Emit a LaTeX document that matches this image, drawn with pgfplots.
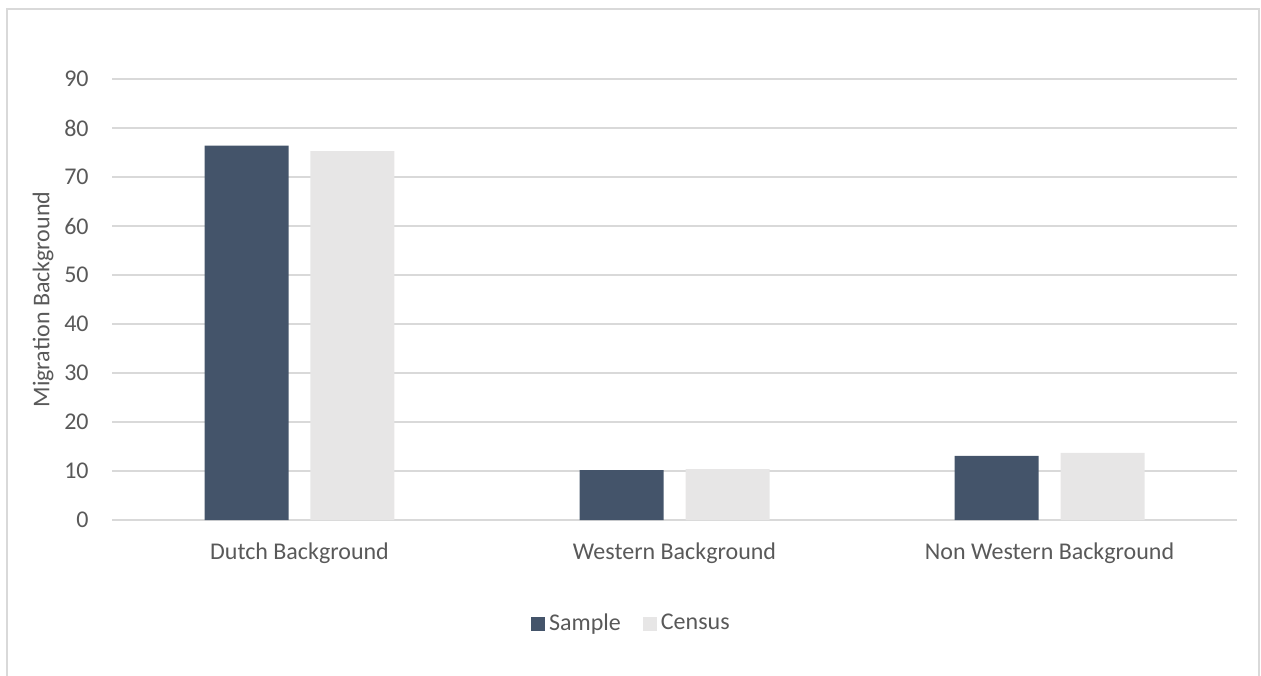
\documentclass[border=0pt]{standalone}
\usepackage{pgfplots}
\pgfplotsset{compat=1.18}
\usepackage{fontspec}
\setmainfont{Carlito}
\definecolor{sample}{HTML}{44546A}
\definecolor{census}{HTML}{E7E6E6}
\definecolor{gridc}{HTML}{D9D9D9}
\definecolor{txt}{HTML}{595959}
\begin{document}
\fontsize{12pt}{14pt}\selectfont
\begin{tikzpicture}
\useasboundingbox (0,0) rectangle (630.5pt,337.5pt);
\draw[gridc, line width=1pt] (3.5pt,-2pt) -- (3.5pt,333pt) -- (629.5pt,333pt) -- (629.5pt,-2pt);
\begin{axis}[
  at={(56pt,77.5pt)}, anchor=south west,
  scale only axis, width=562.5pt, height=220.5pt,
  xmin=-0.5, xmax=2.5, ymin=0, ymax=90,
  ytick={0,10,...,90},
  xtick={0,1,2},
  xticklabels={Dutch Background, Western Background, Non Western Background},
  ymajorgrids, grid style={gridc, line width=0.9pt},
  axis x line*=bottom, axis y line*=left,
  axis line style={draw=none}, tick style={draw=none},
  tick label style={font=\fontsize{12pt}{14pt}\selectfont, color=txt},
  /pgf/number format/assume math mode=true,
  yticklabel style={inner sep=0pt, anchor=east, xshift=-11.5pt},
  xticklabel style={inner sep=0pt, anchor=north, yshift=-11pt},
  ylabel={Migration Background},
  ylabel style={at={(axis description cs:-0.0613,0.5)}, anchor=center, color=txt, font=\fontsize{12pt}{14pt}\selectfont},
  legend style={at={(axis description cs:0.4626,-0.2358)}, anchor=center, draw=none, legend columns=-1,
    font=\fontsize{12pt}{14pt}\selectfont, text=txt,
    /tikz/every even column/.append style={column sep=9pt}},
  legend image code/.code={\fill[#1] (0pt,-3.5pt) rectangle (7pt,3.5pt);},
]
\addplot[ybar, bar width=0.224, bar shift=-0.1413, fill=sample, draw=none] coordinates {(0,76.4) (1,10.2) (2,13.1)};
\addplot[ybar, bar width=0.224, bar shift=0.1413, fill=census, draw=none] coordinates {(0,75.3) (1,10.4) (2,13.7)};
\legend{Sample, Census}
\end{axis}
\end{tikzpicture}
\end{document}
